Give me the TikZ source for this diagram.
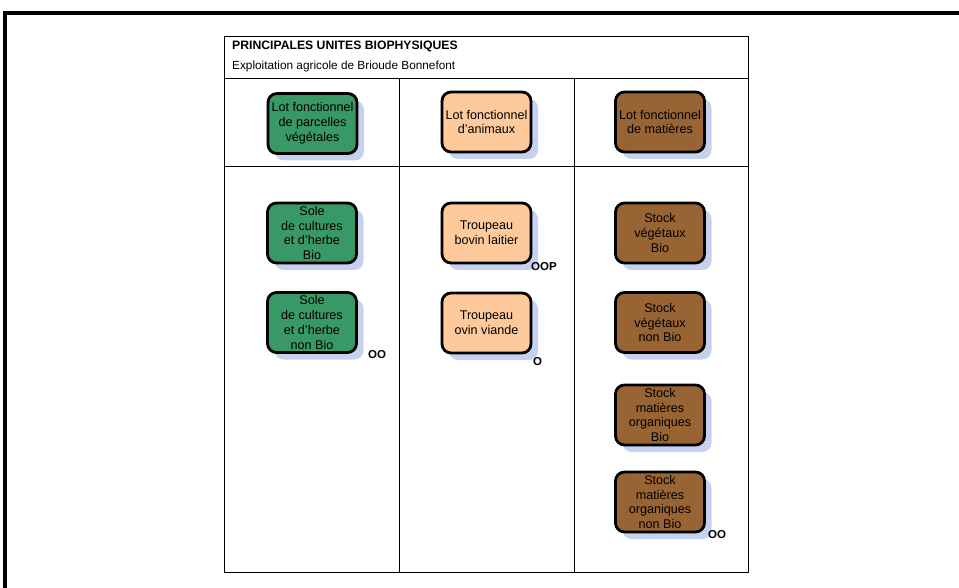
\documentclass[tikz,border=0pt]{standalone}
\usepackage{fontspec}
\setmainfont{Liberation Sans}
\usetikzlibrary{shadows}
\definecolor{boxgreen}{RGB}{56,153,102}
\definecolor{boxpeach}{RGB}{255,202,155}
\definecolor{boxbrown}{RGB}{153,100,51}
\definecolor{shadowblue}{RGB}{198,209,238}
\begin{document}
\begin{tikzpicture}[x=1pt,y=-1pt,
  unitbox/.style={draw=black, line width=2.8pt, rounded corners=9pt,
    minimum width=89pt, minimum height=60pt, inner sep=0pt, align=center,
    font=\fontsize{12.6}{14.8}\selectfont,
    drop shadow={shadow xshift=7pt, shadow yshift=-7pt, fill=shadowblue, opacity=1, draw=none}},
  green/.style={unitbox, fill=boxgreen},
  peach/.style={unitbox, fill=boxpeach},
  brown/.style={unitbox, fill=boxbrown},
  tag/.style={font=\bfseries\fontsize{11.5}{13}\selectfont, inner sep=0pt, anchor=west},
  grid/.style={line width=0.8pt, draw=black}]
\useasboundingbox (0,0) rectangle (959,588);
% outer frame
\draw[line width=3.2pt] (5,588) -- (5,13) -- (959,13);
% table
\draw[grid] (224,36) rectangle (748,572);
\draw[grid] (224,78) -- (748,78);
\draw[grid] (224,166) -- (748,166);
\draw[grid] (399,78) -- (399,572);
\draw[grid] (574,78) -- (574,572);
\node[anchor=west, inner sep=0pt, font=\bfseries\fontsize{12.2}{14}\selectfont] (title) at (232,46) {PRINCIPALES UNITES BIOPHYSIQUES};
\node[anchor=west, inner sep=0pt, font=\fontsize{11.8}{14}\selectfont] (sub) at (232,66) {Exploitation agricole de Brioude Bonnefont};
% header boxes
\node[green] (t1) at (312.5,123.5) {Lot fonctionnel\\de parcelles\\végétales};
\node[peach] (t2) at (486.5,122) {Lot fonctionnel\\d’animaux};
\node[brown] (t3) at (660,122) {Lot fonctionnel\\de matières};
% column 1
\node[green] (a1) at (312,233) {Sole\\de cultures\\et d’herbe\\Bio};
\node[green] (a2) at (312,322.5) {Sole\\de cultures\\et d’herbe\\non Bio};
% column 2
\node[peach] (b1) at (486.5,233) {Troupeau\\bovin laitier};
\node[peach] (b2) at (486.5,323) {Troupeau\\ovin viande};
% column 3
\node[brown] (c1) at (660,233) {Stock\\végétaux\\Bio};
\node[brown] (c2) at (660,322.5) {Stock\\végétaux\\non Bio};
\node[brown] (c3) at (660,415) {Stock\\matières\\organiques\\Bio};
\node[brown] (c4) at (660,502) {Stock\\matières\\organiques\\non Bio};
% tags
\node[tag] (ta2) at (368,355) {OO};
\node[tag] (tb1) at (531,267) {OOP};
\node[tag] (tb2) at (533,362) {O};
\node[tag] (tc4) at (708,535) {OO};
\end{tikzpicture}
\end{document}
